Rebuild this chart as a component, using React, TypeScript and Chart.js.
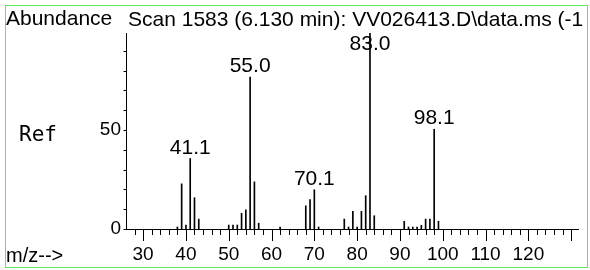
import React, { useEffect, useRef } from "react";
import { Chart, registerables } from "chart.js";

Chart.register(...registerables);

const mzValues = [38, 39, 40, 41, 42, 43, 50, 51, 52, 53, 54, 55, 56, 57, 62, 68, 69, 70, 71, 77, 78, 79, 80, 81, 82, 83, 84, 91, 92, 93, 94, 95, 96, 97, 98, 99];
const abundance = [1, 22.8, 2, 35.6, 15.8, 5, 2, 2, 2, 7.9, 9.7, 76.7, 23.8, 2.9, 1, 11.7, 14.8, 19.8, 1, 5, 1, 8.9, 1, 8.9, 16.8, 99, 6.7, 3.9, 1, 1, 1, 1.9, 5, 5, 50.4, 3.9];
const labelMz = [41, 55, 70, 83, 98];
const labelText = ["41.1", "55.0", "70.1", "83.0", "98.1"];
const xLabelTicks = [30, 40, 50, 60, 70, 80, 90, 100, 110, 120];
const yLabelTicks = [0, 50];
const titleText = "Scan 1583 (6.130 min): VV026413.D\\data.ms (-1";

const SANS = "'Liberation Sans', Arial, sans-serif";

export default function App() {
  const ref = useRef<HTMLCanvasElement | null>(null);

  useEffect(() => {
    if (!ref.current) return;
    const decor = {
      id: "decor",
      afterDraw(chart: any) {
        const ctx = chart.ctx;
        const xs = chart.scales.x;
        const ys = chart.scales.y;
        const base = ys.getPixelForValue(0);
        ctx.save();
        ctx.strokeStyle = "#000";
        ctx.lineWidth = 1;
        ctx.beginPath();
        for (let v = 28; v <= 130; v += 2) {
          const px = Math.round(xs.getPixelForValue(v)) + 0.5;
          const len = v % 10 === 0 ? 12 : 6;
          ctx.moveTo(px, Math.round(base));
          ctx.lineTo(px, Math.round(base) + len);
        }
        const left = Math.round(chart.chartArea.left) + 0.5;
        for (let v = 0; v <= 90; v += 10) {
          const py = Math.round(ys.getPixelForValue(v)) + 0.5;
          ctx.moveTo(left - 3, py);
          ctx.lineTo(left, py);
        }
        ctx.stroke();

        // peak labels
        ctx.fillStyle = "#000";
        ctx.font = `21px ${SANS}`;
        ctx.textAlign = "center";
        ctx.textBaseline = "alphabetic";
        labelMz.forEach((m, i) => {
          const idx = mzValues.indexOf(m);
          const px = xs.getPixelForValue(m);
          const py = ys.getPixelForValue(abundance[idx]);
          const bl = Math.max(py - 5, 50);
          ctx.fillText(labelText[i], px, bl);
        });

        // header texts
        ctx.textAlign = "left";
        ctx.font = `21px ${SANS}`;
        ctx.fillText("Abundance", 6, 25);
        ctx.fillText(titleText, 128, 26);
        ctx.font = `20px ${SANS}`;
        ctx.fillText("m/z-->", 6, 262);
        ctx.font = "21px 'DejaVu Sans Mono', monospace";
        ctx.fillText("Ref", 19, 141);

        // green frame
        ctx.strokeStyle = "#5ee85e";
        ctx.lineWidth = 1;
        ctx.strokeRect(5.5, 5.5, 582, 262);
        ctx.restore();
      },
    };

    const chart = new Chart(ref.current, {
      type: "bar",
      data: {
        datasets: [
          {
            data: mzValues.map((m, i) => ({ x: m, y: abundance[i] })),
            backgroundColor: "#000",
            borderWidth: 0,
            barThickness: 1,
          } as any,
        ],
      },
      options: {
        animation: false,
        responsive: false,
        events: [],
        layout: { padding: { top: 33, right: 12, left: 0, bottom: 0 } },
        plugins: { legend: { display: false }, tooltip: { enabled: false } },
        scales: {
          x: {
            type: "linear",
            min: 26,
            max: 131.6,
            offset: false,
            grid: { display: false, drawTicks: false },
            border: { display: true, color: "#000", width: 1 },
            ticks: {
              color: "#000",
              font: { family: SANS, size: 19 },
              padding: 14,
              autoSkip: false,
              maxRotation: 0,
            },
            afterBuildTicks: (s: any) => {
              s.ticks = xLabelTicks.map((v) => ({ value: v }));
            },
            afterFit: (s: any) => {
              s.height = 41;
            },
          },
          y: {
            min: 0,
            max: 99,
            grid: { display: false, drawTicks: false },
            border: { display: true, color: "#000", width: 1 },
            ticks: {
              color: "#000",
              font: { family: SANS, size: 19 },
              padding: 5,
            },
            afterBuildTicks: (s: any) => {
              s.ticks = yLabelTicks.map((v) => ({ value: v }));
            },
            afterFit: (s: any) => {
              s.width = 126;
            },
          },
        },
      } as any,
      plugins: [decor],
    });
    return () => chart.destroy();
  }, []);

  return (
    <div style={{ position: "fixed", left: 0, top: 0, width: 590, height: 270, background: "#fff" }}>
      <canvas ref={ref} width={590} height={270} style={{ width: 590, height: 270 }} />
    </div>
  );
}
